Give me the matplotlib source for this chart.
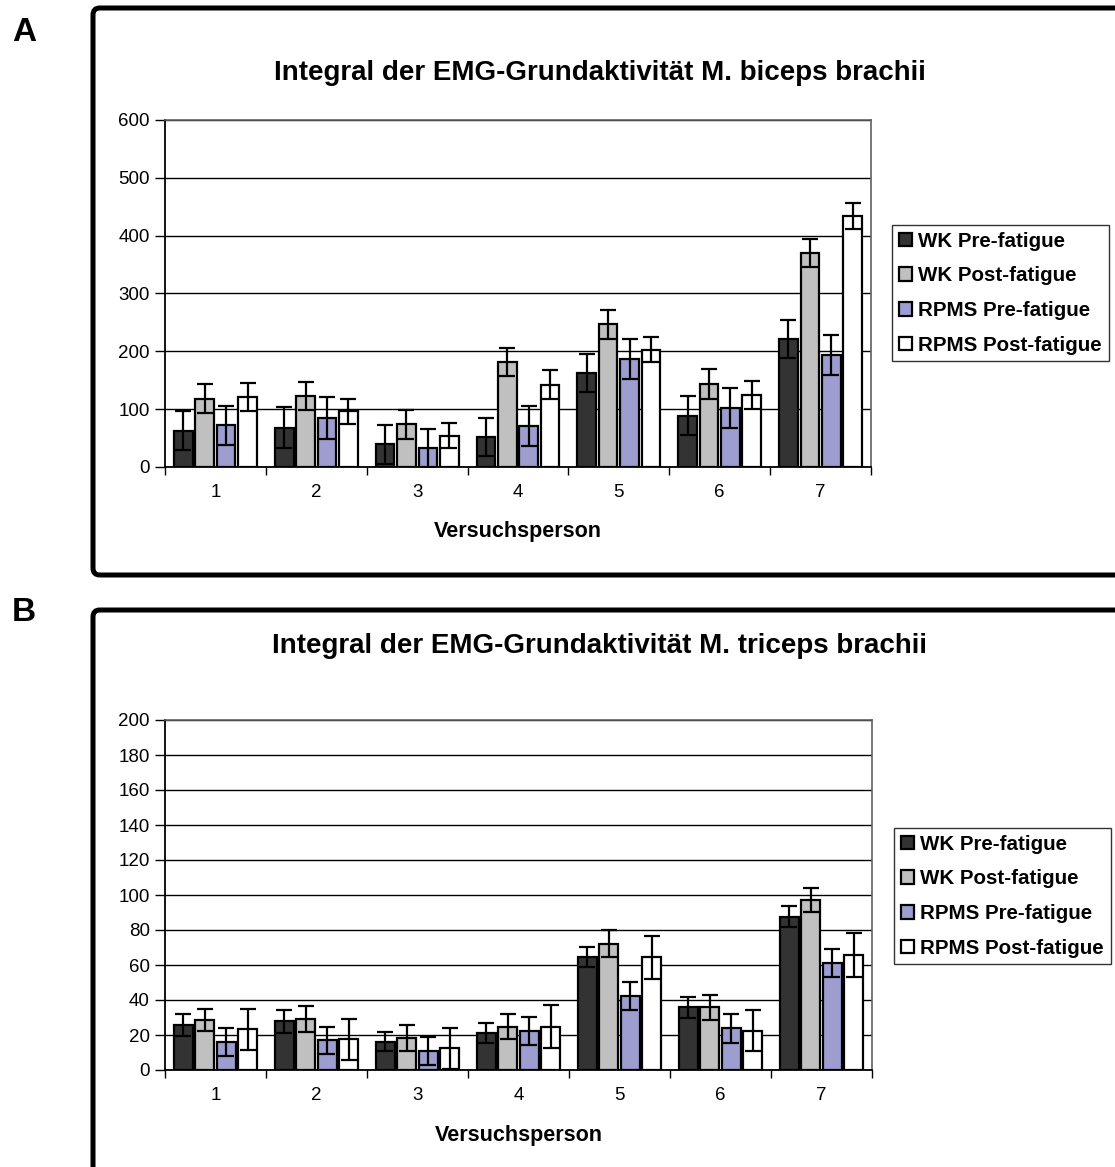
import numpy as np
import matplotlib.pyplot as plt
from matplotlib.patches import FancyBboxPatch

plt.rcParams['font.family'] = ['Liberation Sans', 'DejaVu Sans']

# Data
subjects = ['1', '2', '3', '4', '5', '6', '7']
series = ['WK Pre-fatigue', 'WK Post-fatigue', 'RPMS Pre-fatigue', 'RPMS Post-fatigue']
colors = ['#333333', '#c0c0c0', '#9d9dcf', '#ffffff']

# A: M. biceps brachii
biceps_wk_pre = [63, 68, 39, 52, 163, 89, 221]
biceps_wk_post = [118, 123, 74, 182, 247, 144, 370]
biceps_rpms_pre = [72, 85, 32, 71, 187, 102, 194]
biceps_rpms_post = [121, 96, 54, 142, 203, 124, 434]
biceps_wk_pre_err = [33, 36, 33, 33, 33, 33, 33]
biceps_wk_post_err = [25, 24, 25, 24, 25, 26, 24]
biceps_rpms_pre_err = [34, 36, 33, 34, 35, 34, 35]
biceps_rpms_post_err = [24, 22, 22, 25, 21, 24, 22]

# B: M. triceps brachii
triceps_wk_pre = [25.7, 27.8, 16.2, 21.3, 64.4, 35.8, 87.6]
triceps_wk_post = [28.6, 29.1, 18.3, 24.8, 72.2, 35.8, 97.1]
triceps_rpms_pre = [16.2, 17.0, 10.9, 22.5, 42.3, 23.8, 61.3]
triceps_rpms_post = [23.2, 17.5, 12.4, 24.8, 64.4, 22.5, 65.7]
triceps_wk_pre_err = [6.3, 6.5, 5.5, 5.7, 5.7, 5.9, 5.9]
triceps_wk_post_err = [6.5, 7.4, 7.2, 7.2, 7.8, 7.2, 6.7]
triceps_rpms_pre_err = [8.0, 7.6, 7.8, 8.0, 8.0, 8.2, 8.0]
triceps_rpms_post_err = [11.8, 11.6, 11.6, 12.5, 12.2, 11.8, 12.6]

W, H = 1115, 1167
fig = plt.figure(figsize=(W / 100, H / 100), dpi=100)


def px_axes(left, top, right, bottom):
    return fig.add_axes([left / W, 1 - bottom / H, (right - left) / W, (bottom - top) / H])


def draw_panel(ax, values, errors, ymax, ystep, leg_left, leg_top, ax_top, ax_h):
    x = np.arange(1, len(subjects) + 1)
    pitch = 0.212
    width = 0.185
    for i, (vals, errs) in enumerate(zip(values, errors)):
        pos = x + (i - 1.5) * pitch
        ax.bar(pos, vals, width=width, color=colors[i], edgecolor='black',
               linewidth=1.6, label=series[i], zorder=3)
        ax.errorbar(pos, vals, yerr=errs, fmt='none', ecolor='black',
                    elinewidth=1.6, capsize=6, capthick=1.6, zorder=4)
    ax.set_xlim(0.5, len(subjects) + 0.5)
    ax.set_ylim(0, ymax)
    ax.set_yticks(np.arange(0, ymax + 1, ystep))
    ax.set_xticks(x)
    ax.set_xticklabels(subjects)
    ax.set_xticks(np.arange(0.5, len(subjects) + 1, 1), minor=True)
    ax.tick_params(axis='x', which='major', length=0, labelsize=13.5, pad=12)
    ax.tick_params(axis='x', which='minor', length=6, width=1, direction='out')
    ax.tick_params(axis='y', length=7, width=1, direction='out', labelsize=13.5, pad=4)
    ax.yaxis.grid(True, color='black', linewidth=1, zorder=0)
    ax.set_axisbelow(True)
    for s in ['left', 'bottom']:
        ax.spines[s].set_color('black')
        ax.spines[s].set_linewidth(1.3)
    for s in ['top', 'right']:
        ax.spines[s].set_color('#606060')
        ax.spines[s].set_linewidth(1.2)
    ax.set_xlabel('Versuchsperson', fontsize=15.5, fontweight='bold', labelpad=15)
    leg = ax.legend(loc='upper left',
                    bbox_to_anchor=((leg_left - 165) / 706, 1 - (leg_top - ax_top) / ax_h),
                    prop={'weight': 'bold', 'size': 14.8}, frameon=True, fancybox=False,
                    edgecolor='black', handlelength=0.65, handleheight=0.65,
                    handletextpad=0.3, labelspacing=0.76, borderpad=0.33,
                    borderaxespad=0)
    leg.get_frame().set_linewidth(1)


ax1 = px_axes(165, 120, 871, 467)
draw_panel(ax1,
           [biceps_wk_pre, biceps_wk_post, biceps_rpms_pre, biceps_rpms_post],
           [biceps_wk_pre_err, biceps_wk_post_err, biceps_rpms_pre_err, biceps_rpms_post_err],
           600, 100, 892, 225, 120, 347)

ax2 = px_axes(165, 720, 872, 1070)
draw_panel(ax2,
           [triceps_wk_pre, triceps_wk_post, triceps_rpms_pre, triceps_rpms_post],
           [triceps_wk_pre_err, triceps_wk_post_err, triceps_rpms_pre_err, triceps_rpms_post_err],
           200, 20, 893, 828, 720, 350)

fig.text(600 / W, 1 - 73 / H, 'Integral der EMG-Grundaktivität M. biceps brachii',
         fontsize=20, fontweight='bold', ha='center', va='center')
fig.text(600 / W, 1 - 646 / H, 'Integral der EMG-Grundaktivität M. triceps brachii',
         fontsize=20, fontweight='bold', ha='center', va='center')

# panel frames
fig.patches.append(FancyBboxPatch((93 / W, 1 - 575 / H), 1.2, 567 / H,
                                  boxstyle='round,pad=0,rounding_size=0.006',
                                  transform=fig.transFigure, fill=False,
                                  edgecolor='black', linewidth=3.6, figure=fig))
fig.patches.append(FancyBboxPatch((93 / W, -0.2), 1.2, 0.2 + 1 - 610 / H,
                                  boxstyle='round,pad=0,rounding_size=0.006',
                                  transform=fig.transFigure, fill=False,
                                  edgecolor='black', linewidth=3.6, figure=fig))

fig.text(12 / W, 1 - 41 / H, 'A', fontsize=24, fontweight='bold')
fig.text(12 / W, 1 - 621 / H, 'B', fontsize=24, fontweight='bold')

fig.savefig('out.png', dpi=100)
